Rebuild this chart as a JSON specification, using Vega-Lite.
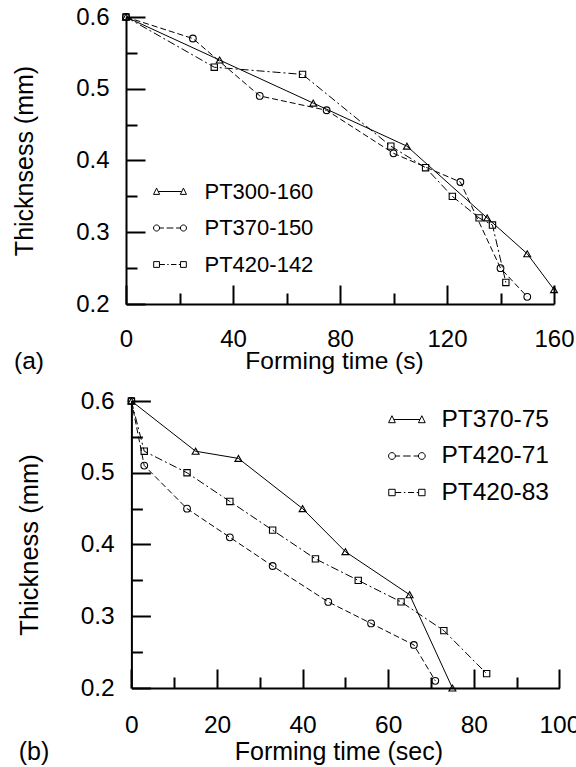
{
 "$schema": "https://vega.github.io/schema/vega-lite/v6.json",
 "padding": {"left": 12, "top": 5, "right": -4, "bottom": 0},
 "config": {
  "font": "Liberation Sans",
  "view": {"stroke": null},
  "axis": {"grid": false, "ticks": true, "tickColor": "black", "tickWidth": 2, "domainColor": "black", "domainWidth": 2, "labelColor": "black", "titleColor": "black", "titleFontWeight": "normal", "labelFlush": false, "labelOverlap": false, "labelBound": false, "minExtent": 0},
  "legend": {"labelColor": "black", "padding": 0, "symbolOpacity": 1, "symbolStrokeColor": "black", "symbolFillColor": "white", "symbolStrokeWidth": 1},
  "title": {"color": "black", "fontWeight": "normal"}
 },
 "resolve": {"scale": {"shape": "independent"}, "legend": {"shape": "independent"}},
 "spacing": 14,
 "datasets": {
  "a": [
   {"series": "PT300-160", "t": 0, "v": 0.6},
   {"series": "PT300-160", "t": 35, "v": 0.54},
   {"series": "PT300-160", "t": 70, "v": 0.48},
   {"series": "PT300-160", "t": 105, "v": 0.42},
   {"series": "PT300-160", "t": 135, "v": 0.32},
   {"series": "PT300-160", "t": 150, "v": 0.27},
   {"series": "PT300-160", "t": 160, "v": 0.22},
   {"series": "PT370-150", "t": 0, "v": 0.6},
   {"series": "PT370-150", "t": 25, "v": 0.57},
   {"series": "PT370-150", "t": 50, "v": 0.49},
   {"series": "PT370-150", "t": 75, "v": 0.47},
   {"series": "PT370-150", "t": 100, "v": 0.41},
   {"series": "PT370-150", "t": 125, "v": 0.37},
   {"series": "PT370-150", "t": 140, "v": 0.25},
   {"series": "PT370-150", "t": 150, "v": 0.21},
   {"series": "PT420-142", "t": 0, "v": 0.6},
   {"series": "PT420-142", "t": 33, "v": 0.53},
   {"series": "PT420-142", "t": 66, "v": 0.52},
   {"series": "PT420-142", "t": 99, "v": 0.42},
   {"series": "PT420-142", "t": 112, "v": 0.39},
   {"series": "PT420-142", "t": 122, "v": 0.35},
   {"series": "PT420-142", "t": 132, "v": 0.32},
   {"series": "PT420-142", "t": 137, "v": 0.31},
   {"series": "PT420-142", "t": 142, "v": 0.23}
  ],
  "b": [
   {"series": "PT370-75", "t": 0, "v": 0.6},
   {"series": "PT370-75", "t": 15, "v": 0.53},
   {"series": "PT370-75", "t": 25, "v": 0.52},
   {"series": "PT370-75", "t": 40, "v": 0.45},
   {"series": "PT370-75", "t": 50, "v": 0.39},
   {"series": "PT370-75", "t": 65, "v": 0.33},
   {"series": "PT370-75", "t": 75, "v": 0.2},
   {"series": "PT420-71", "t": 0, "v": 0.6},
   {"series": "PT420-71", "t": 3, "v": 0.51},
   {"series": "PT420-71", "t": 13, "v": 0.45},
   {"series": "PT420-71", "t": 23, "v": 0.41},
   {"series": "PT420-71", "t": 33, "v": 0.37},
   {"series": "PT420-71", "t": 46, "v": 0.32},
   {"series": "PT420-71", "t": 56, "v": 0.29},
   {"series": "PT420-71", "t": 66, "v": 0.26},
   {"series": "PT420-71", "t": 71, "v": 0.21},
   {"series": "PT420-83", "t": 0, "v": 0.6},
   {"series": "PT420-83", "t": 3, "v": 0.53},
   {"series": "PT420-83", "t": 13, "v": 0.5},
   {"series": "PT420-83", "t": 23, "v": 0.46},
   {"series": "PT420-83", "t": 33, "v": 0.42},
   {"series": "PT420-83", "t": 43, "v": 0.38},
   {"series": "PT420-83", "t": 53, "v": 0.35},
   {"series": "PT420-83", "t": 63, "v": 0.32},
   {"series": "PT420-83", "t": 73, "v": 0.28},
   {"series": "PT420-83", "t": 83, "v": 0.22}
  ]
 },
 "vconcat": [
  {
   "width": 428,
   "height": 287,
   "data": {"name": "a"},
   "title": {"text": "(a)", "orient": "bottom", "anchor": "start", "frame": "bounds", "offset": -23, "fontSize": 24.5, "dx": 1.5},
   "resolve": {"axis": {"x": "independent", "y": "independent"}},
   "layer": [
    {"transform": [{"filter": "datum.series === 'PT300-160'"}],
     "mark": {"type": "line", "color": "black", "strokeWidth": 1},
     "encoding": {
      "x": {"field": "t", "type": "quantitative", "scale": {"domain": [0, 160], "nice": false},
       "axis": {"orient": "bottom", "title": "Forming time (s)", "values": [0, 40, 80, 120, 160], "tickSize": -19, "labelPadding": 42.3, "labelFontSize": 24, "titleFontSize": 24.5, "titleY": 45.6, "titleX": 208}},
      "y": {"field": "v", "type": "quantitative", "scale": {"domain": [0.2, 0.6], "nice": false, "zero": false},
       "axis": {"orient": "left", "title": "Thicknsess (mm)", "values": [0.2, 0.3, 0.4, 0.5, 0.6], "format": ".1f", "tickSize": -19, "labelPadding": 36, "labelFontSize": 24, "titleFontSize": 25, "titleX": -88.5}}}},
    {"transform": [{"filter": "datum.series === 'PT370-150'"}],
     "mark": {"type": "line", "color": "black", "strokeWidth": 1, "strokeDash": [6, 3]},
     "encoding": {
      "x": {"field": "t", "type": "quantitative", "scale": {"domain": [0, 160], "nice": false},
       "axis": {"orient": "bottom", "title": null, "values": [20, 60, 100, 140], "tickSize": -11, "labels": false, "domain": false}},
      "y": {"field": "v", "type": "quantitative", "scale": {"domain": [0.2, 0.6], "nice": false, "zero": false},
       "axis": {"orient": "left", "title": null, "values": [0.25, 0.35, 0.45, 0.55], "tickSize": -11, "labels": false, "domain": false}}}},
    {"transform": [{"filter": "datum.series === 'PT420-142'"}],
     "mark": {"type": "line", "color": "black", "strokeWidth": 1, "strokeDash": [8, 3, 2, 3]},
     "encoding": {
      "x": {"field": "t", "type": "quantitative", "scale": {"domain": [0, 160], "nice": false}, "axis": null},
      "y": {"field": "v", "type": "quantitative", "scale": {"domain": [0.2, 0.6], "nice": false, "zero": false}, "axis": null}}},
    {"transform": [{"filter": "datum.series === 'PT300-160'"}],
     "mark": {"type": "point", "shape": "triangle-up", "filled": false, "color": "black", "size": 48, "strokeWidth": 1.1, "opacity": 1},
     "encoding": {
      "x": {"field": "t", "type": "quantitative", "scale": {"domain": [0, 160], "nice": false}, "axis": null},
      "y": {"field": "v", "type": "quantitative", "scale": {"domain": [0.2, 0.6], "nice": false, "zero": false}, "axis": null}}},
    {"transform": [{"filter": "datum.series === 'PT370-150'"}],
     "mark": {"type": "point", "shape": "circle", "filled": false, "color": "black", "size": 45, "strokeWidth": 1.1, "opacity": 1},
     "encoding": {
      "x": {"field": "t", "type": "quantitative", "scale": {"domain": [0, 160], "nice": false}, "axis": null},
      "y": {"field": "v", "type": "quantitative", "scale": {"domain": [0.2, 0.6], "nice": false, "zero": false}, "axis": null}}},
    {"transform": [{"filter": "datum.series === 'PT420-142'"}],
     "mark": {"type": "point", "shape": "square", "filled": false, "color": "black", "size": 40, "strokeWidth": 1.1, "opacity": 1},
     "encoding": {
      "x": {"field": "t", "type": "quantitative", "scale": {"domain": [0, 160], "nice": false}, "axis": null},
      "y": {"field": "v", "type": "quantitative", "scale": {"domain": [0.2, 0.6], "nice": false, "zero": false}, "axis": null}}},
    {"mark": {"type": "point", "filled": false, "color": "black", "opacity": 0},
     "encoding": {
      "x": {"field": "t", "type": "quantitative", "scale": {"domain": [0, 160], "nice": false}, "axis": null},
      "y": {"field": "v", "type": "quantitative", "scale": {"domain": [0.2, 0.6], "nice": false, "zero": false}, "axis": null},
      "shape": {"field": "series", "type": "nominal", "scale": {"domain": ["PT300-160", "PT370-150", "PT420-142"],
        "range": ["M-0.97,0.17L-0.79,-0.2L-0.61,0.17ZM0.61,0.17L0.79,-0.2L0.97,0.17ZM-0.69,0L0.69,0", "M-0.97,0A0.18,0.18,0,1,0,-0.61,0A0.18,0.18,0,1,0,-0.97,0ZM0.61,0A0.18,0.18,0,1,0,0.97,0A0.18,0.18,0,1,0,0.61,0ZM-0.61,0L-0.36,0M-0.2,0L0.2,0M0.36,0L0.61,0", "M-0.96,-0.17L-0.62,-0.17L-0.62,0.17L-0.96,0.17ZM0.62,-0.17L0.96,-0.17L0.96,0.17L0.62,0.17ZM-0.62,0L-0.3,0M-0.16,0L-0.08,0M0.06,0L0.38,0M0.52,0L0.62,0"]},
      "legend": {"orient": "none", "legendX": 26.5, "legendY": 157, "title": null, "labelFontSize": 22, "symbolSize": 1156, "labelOffset": 17, "rowPadding": 7.5}}}}
   ]
  },
  {
   "width": 433.4,
   "height": 287,
   "data": {"name": "b"},
   "title": {"text": "(b)", "orient": "bottom", "anchor": "start", "frame": "bounds", "offset": -25, "fontSize": 25, "dx": 1},
   "resolve": {"axis": {"x": "independent", "y": "independent"}},
   "layer": [
    {"transform": [{"filter": "datum.series === 'PT370-75'"}],
     "mark": {"type": "line", "color": "black", "strokeWidth": 1},
     "encoding": {
      "x": {"field": "t", "type": "quantitative", "scale": {"domain": [0, 100], "nice": false, "range": [5.4, 433.4]},
       "axis": {"orient": "bottom", "title": "Forming time (sec)", "values": [0, 20, 40, 60, 80, 100], "tickSize": -19, "labelPadding": 44.5, "labelFontSize": 24.5, "titleFontSize": 25, "titleY": 51.5, "titleX": 212.4}},
      "y": {"field": "v", "type": "quantitative", "scale": {"domain": [0.2, 0.6], "nice": false, "zero": false},
       "axis": {"orient": "left", "offset": -5.4, "title": "Thickness (mm)", "values": [0.2, 0.3, 0.4, 0.5, 0.6], "format": ".1f", "tickSize": -19, "labelPadding": 36.2, "labelFontSize": 24.5, "titleFontSize": 25.5, "titleX": -88.7}}}},
    {"transform": [{"filter": "datum.series === 'PT420-71'"}],
     "mark": {"type": "line", "color": "black", "strokeWidth": 1, "strokeDash": [6, 3]},
     "encoding": {
      "x": {"field": "t", "type": "quantitative", "scale": {"domain": [0, 100], "nice": false, "range": [5.4, 433.4]},
       "axis": {"orient": "bottom", "title": null, "values": [10, 30, 50, 70, 90], "tickSize": -11, "labels": false, "domain": false}},
      "y": {"field": "v", "type": "quantitative", "scale": {"domain": [0.2, 0.6], "nice": false, "zero": false},
       "axis": {"orient": "left", "offset": -5.4, "title": null, "values": [0.25, 0.35, 0.45, 0.55], "tickSize": -11, "labels": false, "domain": false}}}},
    {"transform": [{"filter": "datum.series === 'PT420-83'"}],
     "mark": {"type": "line", "color": "black", "strokeWidth": 1, "strokeDash": [8, 3, 2, 3]},
     "encoding": {
      "x": {"field": "t", "type": "quantitative", "scale": {"domain": [0, 100], "nice": false, "range": [5.4, 433.4]}, "axis": null},
      "y": {"field": "v", "type": "quantitative", "scale": {"domain": [0.2, 0.6], "nice": false, "zero": false}, "axis": null}}},
    {"transform": [{"filter": "datum.series === 'PT370-75'"}],
     "mark": {"type": "point", "shape": "triangle-up", "filled": false, "color": "black", "size": 48, "strokeWidth": 1.1, "opacity": 1},
     "encoding": {
      "x": {"field": "t", "type": "quantitative", "scale": {"domain": [0, 100], "nice": false, "range": [5.4, 433.4]}, "axis": null},
      "y": {"field": "v", "type": "quantitative", "scale": {"domain": [0.2, 0.6], "nice": false, "zero": false}, "axis": null}}},
    {"transform": [{"filter": "datum.series === 'PT420-71'"}],
     "mark": {"type": "point", "shape": "circle", "filled": false, "color": "black", "size": 45, "strokeWidth": 1.1, "opacity": 1},
     "encoding": {
      "x": {"field": "t", "type": "quantitative", "scale": {"domain": [0, 100], "nice": false, "range": [5.4, 433.4]}, "axis": null},
      "y": {"field": "v", "type": "quantitative", "scale": {"domain": [0.2, 0.6], "nice": false, "zero": false}, "axis": null}}},
    {"transform": [{"filter": "datum.series === 'PT420-83'"}],
     "mark": {"type": "point", "shape": "square", "filled": false, "color": "black", "size": 40, "strokeWidth": 1.1, "opacity": 1},
     "encoding": {
      "x": {"field": "t", "type": "quantitative", "scale": {"domain": [0, 100], "nice": false, "range": [5.4, 433.4]}, "axis": null},
      "y": {"field": "v", "type": "quantitative", "scale": {"domain": [0.2, 0.6], "nice": false, "zero": false}, "axis": null}}},
    {"mark": {"type": "point", "filled": false, "color": "black", "opacity": 0},
     "encoding": {
      "x": {"field": "t", "type": "quantitative", "scale": {"domain": [0, 100], "nice": false, "range": [5.4, 433.4]}, "axis": null},
      "y": {"field": "v", "type": "quantitative", "scale": {"domain": [0.2, 0.6], "nice": false, "zero": false}, "axis": null},
      "shape": {"field": "series", "type": "nominal", "scale": {"domain": ["PT370-75", "PT420-71", "PT420-83"],
        "range": ["M-0.97,0.17L-0.79,-0.2L-0.61,0.17ZM0.61,0.17L0.79,-0.2L0.97,0.17ZM-0.69,0L0.69,0", "M-0.97,0A0.18,0.18,0,1,0,-0.61,0A0.18,0.18,0,1,0,-0.97,0ZM0.61,0A0.18,0.18,0,1,0,0.97,0A0.18,0.18,0,1,0,0.61,0ZM-0.61,0L-0.36,0M-0.2,0L0.2,0M0.36,0L0.61,0", "M-0.96,-0.17L-0.62,-0.17L-0.62,0.17L-0.96,0.17ZM0.62,-0.17L0.96,-0.17L0.96,0.17L0.62,0.17ZM-0.62,0L-0.3,0M-0.16,0L-0.08,0M0.06,0L0.38,0M0.52,0L0.62,0"]},
      "legend": {"orient": "none", "legendX": 261.4, "legendY": -1, "title": null, "labelFontSize": 24.5, "symbolSize": 1429, "labelOffset": 15, "rowPadding": 5.5}}}}
   ]
  }
 ]
}
